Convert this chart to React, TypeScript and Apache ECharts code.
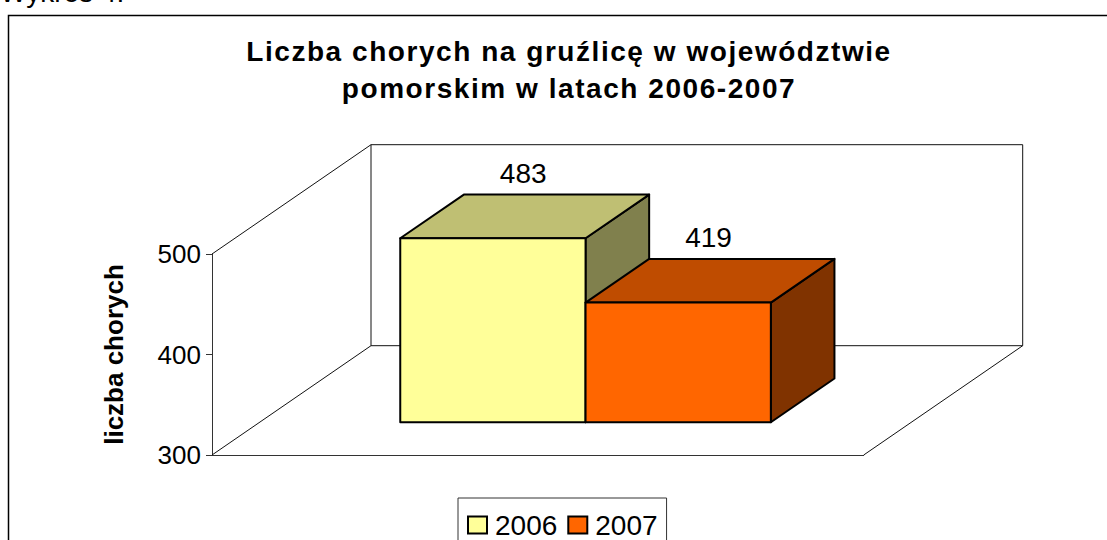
import React, { useEffect, useRef } from "react";
import * as echarts from "echarts";

const categories = ["2006-2007"];
const seriesNames = ["2006", "2007"];
const values2006 = [483];
const values2007 = [419];
const tickMin = 300;
const tickMax = 500;
const tickStep = 100;
const titleText = "Liczba chorych na gruźlicę w województwie\npomorskim w latach 2006-2007";
const yAxisTitle = "liczba chorych";
const captionText = "Wykres 4.";

const FONT = '"Liberation Sans", Arial, sans-serif';
const GRID = { left: 212, top: 254, width: 651.7, height: 201 };
const WALL_DX = 159;
const WALL_DY = -109.3;
const BAR_INSET = 0.3;
const BAR_DEPTH = 0.4;
const BAR_WIDTH = 185.3;
const LINE = "#111";

const barRenderer = (indexOffset: number, front: string, top: string, side: string) =>
  (_params: any, api: any) => {
    const v = api.value(1);
    const base = api.coord([0, tickMin]);
    const head = api.coord([0, v]);
    const ox = WALL_DX * BAR_INSET;
    const oy = WALL_DY * BAR_INSET;
    const dx = WALL_DX * BAR_DEPTH;
    const dy = WALL_DY * BAR_DEPTH;
    const x0 = base[0] + ox + indexOffset * BAR_WIDTH;
    const x1 = x0 + BAR_WIDTH;
    const yb = base[1] + oy;
    const yt = head[1] + oy;
    const s = { stroke: "#000", lineWidth: 2, lineJoin: "round" };
    return {
      type: "group",
      children: [
        { type: "polygon", shape: { points: [[x1, yt], [x1 + dx, yt + dy], [x1 + dx, yb + dy], [x1, yb]] }, style: { fill: side, ...s } },
        { type: "polygon", shape: { points: [[x0, yt], [x0 + dx, yt + dy], [x1 + dx, yt + dy], [x1, yt]] }, style: { fill: top, ...s } },
        { type: "rect", shape: { x: x0, y: yt, width: BAR_WIDTH, height: yb - yt }, style: { fill: front, ...s } },
        {
          type: "text",
          style: {
            text: String(v),
            x: (x0 + x1) / 2 + dx / 2 - 1.5,
            y: yt + dy - 7,
            align: "center",
            verticalAlign: "bottom",
            fill: "#000",
            font: `28px ${FONT}`,
          },
        },
      ],
    };
  };

const wallRenderer = (params: any) => {
  const c = params.coordSys;
  const x0 = c.x;
  const x1 = c.x + c.width;
  const yT = c.y;
  const yB = c.y + c.height;
  const s = { stroke: LINE, lineWidth: 1, fill: "none" };
  const line = (pts: number[][]) => ({ type: "polyline", shape: { points: pts }, style: s });
  return {
    type: "group",
    children: [
      line([[x0, yT], [x0 + WALL_DX, yT + WALL_DY], [x1 + WALL_DX, yT + WALL_DY], [x1 + WALL_DX, yB + WALL_DY], [x0 + WALL_DX, yB + WALL_DY], [x0, yB]]),
      line([[x0 + WALL_DX, yT + WALL_DY], [x0 + WALL_DX, yB + WALL_DY]]),
      line([[x1 + WALL_DX, yB + WALL_DY], [x1, yB]]),
    ],
  };
};

export default function App() {
  const ref = useRef<HTMLDivElement>(null);
  useEffect(() => {
    document.body.style.margin = "0";
    const chart = echarts.init(ref.current!, undefined, { renderer: "svg" });
    chart.setOption({
      animation: false,
      backgroundColor: "#fff",
      title: {
        text: titleText,
        left: 564,
        top: 28,
        textAlign: "center",
        textStyle: { fontFamily: FONT, fontSize: 28, fontWeight: "bold", color: "#000", lineHeight: 37 },
      },
      legend: {
        data: seriesNames.map((name) => ({ name, icon: "rect" })),
        left: 458,
        top: 498,
        orient: "horizontal",
        padding: [13, 9, 20, 9],
        itemGap: 10,
        itemWidth: 19,
        itemHeight: 17,
        borderColor: "#333",
        borderWidth: 1,
        backgroundColor: "#fff",
        textStyle: { fontFamily: FONT, fontSize: 28, color: "#000", padding: [0, 0, 0, 3] },
      },
      grid: { ...GRID },
      xAxis: {
        type: "category",
        data: categories,
        axisLine: { show: true, lineStyle: { color: "#333", width: 1 } },
        axisTick: { show: false },
        axisLabel: { show: false },
        splitLine: { show: false },
      },
      yAxis: {
        type: "value",
        min: tickMin,
        max: tickMax,
        interval: tickStep,
        name: yAxisTitle,
        nameLocation: "middle",
        nameRotate: 90,
        nameGap: 85,
        nameTextStyle: { fontFamily: FONT, fontSize: 26, fontWeight: "bold", color: "#000" },
        axisLine: { show: true, lineStyle: { color: "#333", width: 1 } },
        axisTick: { show: true, length: 6, lineStyle: { color: "#333", width: 1 } },
        axisLabel: { fontFamily: FONT, fontSize: 26, color: "#000", margin: 11 },
        splitLine: { show: false },
      },
      graphic: [
        {
          type: "rect",
          z: -1,
          shape: { x: 8.5, y: 15.5, width: 1200, height: 600 },
          style: { fill: "none", stroke: "#000", lineWidth: 1.5 },
        },
        {
          type: "text",
          x: 0,
          y: -22,
          style: { text: captionText, font: `28px ${FONT}`, fill: "#000" },
        },
      ],
      series: [
        { type: "custom", name: "walls", coordinateSystem: "cartesian2d", renderItem: wallRenderer, data: [[0, tickMin]], silent: true, z: 1 },
        {
          type: "custom",
          name: seriesNames[0],
          coordinateSystem: "cartesian2d",
          renderItem: barRenderer(-1, "#FFFF99", "#BFBF73", "#80804D"),
          data: values2006.map((v, i) => [i, v]),
          itemStyle: { color: "#FFFF99", borderColor: "#000", borderWidth: 2 },
          z: 2,
        },
        {
          type: "custom",
          name: seriesNames[1],
          coordinateSystem: "cartesian2d",
          renderItem: barRenderer(0, "#FF6600", "#BF4C00", "#803300"),
          data: values2007.map((v, i) => [i, v]),
          itemStyle: { color: "#FF6600", borderColor: "#000", borderWidth: 2 },
          z: 3,
        },
      ],
    });
    return () => chart.dispose();
  }, []);
  return (
    <>
      <style>{'svg text[style*="bold"][style*="28px"]{letter-spacing:1.55px}'}</style>
      <div ref={ref} style={{ width: 1107, height: 540, overflow: "hidden" }} />
    </>
  );
}
